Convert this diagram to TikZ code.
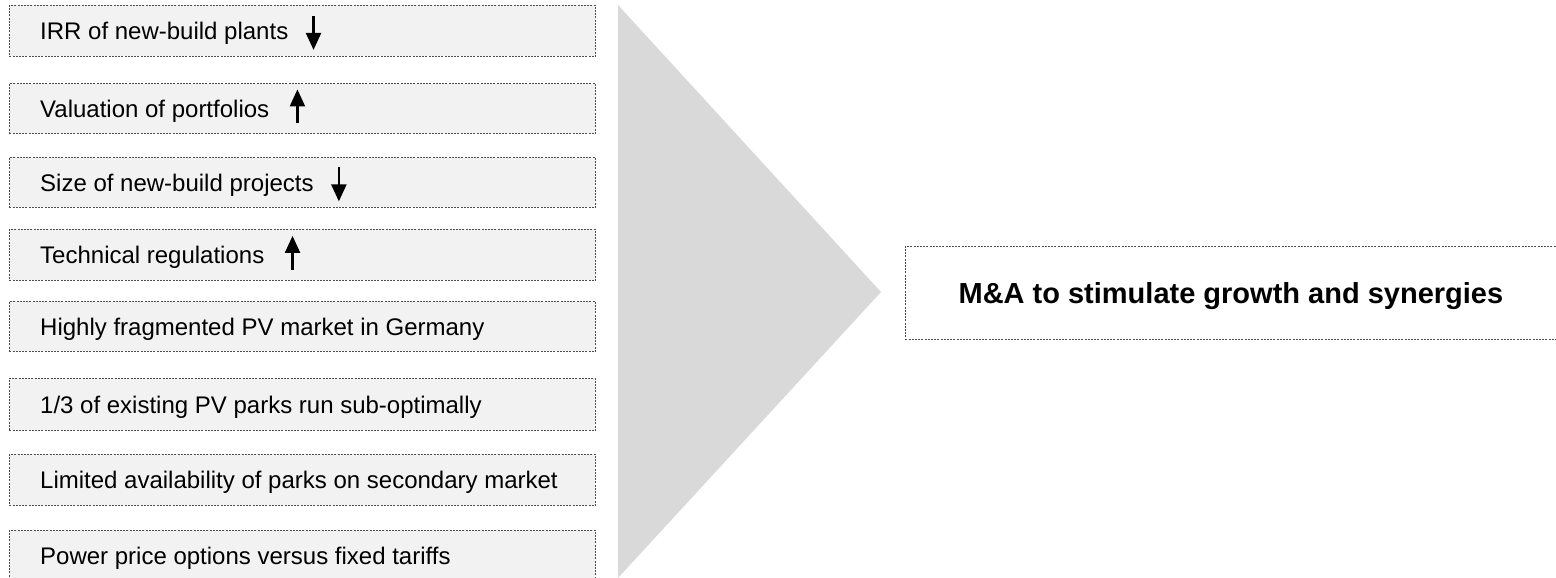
\documentclass[tikz,border=0pt]{standalone}
\usepackage{fontspec}
\setmainfont{Liberation Sans}
\usetikzlibrary{arrows.meta,calc}
\definecolor{boxgray}{HTML}{F2F2F2}
\definecolor{arrowgray}{HTML}{D9D9D9}
\definecolor{framegray}{HTML}{4D4D4D}
\begin{document}
\begin{tikzpicture}[x=1pt,y=-1pt,
  frame/.style={draw=framegray, line width=0.8pt, dash pattern=on 2pt off 1.2pt},
  factorbox/.style={frame, fill=boxgray, minimum width=586pt, anchor=north west, inner sep=0pt},
  itemtext/.style={anchor=base west, inner sep=0pt, font=\fontsize{24}{28}\selectfont, text=black},
  trend/.style={line width=2.2pt, -{Triangle[width=15pt,length=17pt]}}
]
\useasboundingbox (0,0) rectangle (1556,578);

% big grey chevron
\fill[arrowgray] (618,5) -- (881,292) -- (618,578) -- cycle;

% factor boxes
\node[factorbox, minimum height=51pt] (b1) at (9,5) {};
\node[factorbox, minimum height=50pt] (b2) at (9,83) {};
\node[factorbox, minimum height=50pt] (b3) at (9,157) {};
\node[factorbox, minimum height=51pt] (b4) at (9,229) {};
\node[factorbox, minimum height=50pt] (b5) at (9,301) {};
\node[factorbox, minimum height=52pt] (b6) at (9,378) {};
\node[factorbox, minimum height=51pt] (b7) at (9,454) {};
\node[factorbox, minimum height=51pt] (b8) at (9,530) {};

\node[itemtext] (t1) at ([xshift=31pt,yshift=-9pt]b1.west) {IRR of new-build plants};
\node[itemtext] (t2) at ([xshift=31pt,yshift=-9pt]b2.west) {Valuation of portfolios};
\node[itemtext] (t3) at ([xshift=31pt,yshift=-9pt]b3.west) {Size of new-build projects};
\node[itemtext] (t4) at ([xshift=31pt,yshift=-9pt]b4.west) {Technical regulations};
\node[itemtext] (t5) at ([xshift=31pt,yshift=-9pt]b5.west) {Highly fragmented PV market in Germany};
\node[itemtext] (t6) at ([xshift=31pt,yshift=-9pt]b6.west) {1/3 of existing PV parks run sub-optimally};
\node[itemtext] (t7) at ([xshift=31pt,yshift=-9pt]b7.west) {Limited availability of parks on secondary market};
\node[itemtext] (t8) at ([xshift=31pt,yshift=-9pt]b8.west) {Power price options versus fixed tariffs};

% trend arrows
\coordinate (d1s) at ($(t1.base east |- b1.center)+(25,-15)$);
\coordinate (d1e) at ($(t1.base east |- b1.center)+(25,19)$);
\coordinate (u2s) at ($(t2.base east |- b2.center)+(28,15)$);
\coordinate (u2e) at ($(t2.base east |- b2.center)+(28,-19)$);
\coordinate (d3s) at ($(t3.base east |- b3.center)+(25,-15)$);
\coordinate (d3e) at ($(t3.base east |- b3.center)+(25,19)$);
\coordinate (u4s) at ($(t4.base east |- b4.center)+(28,15)$);
\coordinate (u4e) at ($(t4.base east |- b4.center)+(28,-19)$);
\draw[trend] (d1s) -- (d1e);
\draw[trend] (u2s) -- (u2e);
\draw[trend] (d3s) -- (d3e);
\draw[trend] (u4s) -- (u4e);

% result box
\node[frame, fill=white, minimum width=653pt, minimum height=93pt, anchor=north west, inner sep=0pt] (ma) at (905,246) {};
\node[inner sep=0pt, anchor=base, font=\fontsize{29}{33}\bfseries\selectfont] (mat) at ([xshift=-1pt,yshift=-10.5pt]ma.center) {M\&A to stimulate growth and synergies};
\end{tikzpicture}
\end{document}
